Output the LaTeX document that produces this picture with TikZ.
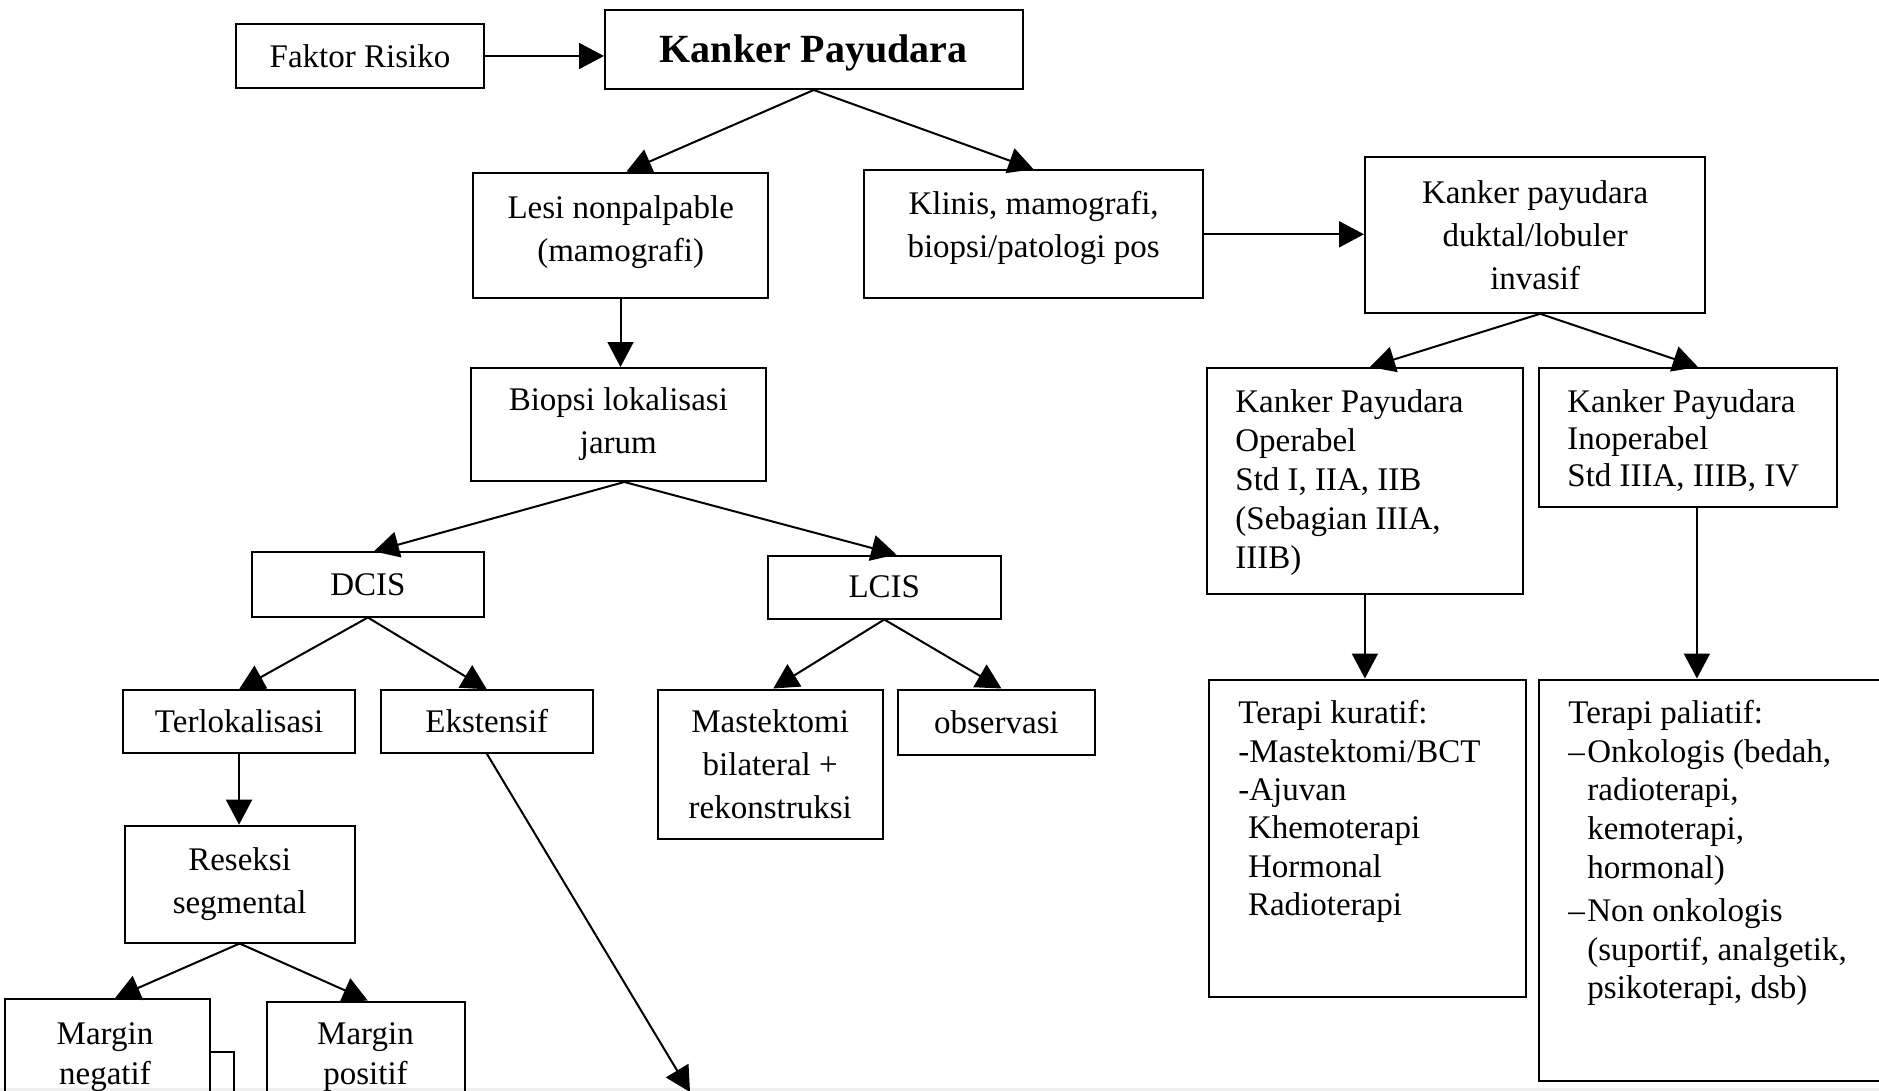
\documentclass[tikz,border=0pt]{standalone}
\usepackage{fontspec}
\setmainfont{Liberation Serif}
\usetikzlibrary{arrows.meta,fit}
\begin{document}
\begin{tikzpicture}[x=0.5pt,y=-0.5pt,
  box/.style={draw, line width=1pt, inner sep=0pt},
  txt/.style={inner sep=0pt, align=center, font=\fontsize{16.5}{21.5}\selectfont},
  ltxt/.style={inner sep=0pt, align=left, anchor=north west},
  arr/.style={line width=1pt, -{Triangle[length=12.5pt,width=13pt]}},
  ln/.style={line width=1pt}]
\useasboundingbox (0,0) rectangle (1879,1091);
\clip (0,0) rectangle (1879,1091);
\fill[gray!12] (0,1088) rectangle (1879,1091);

% ---- top row
\node[box, fit={(236,24) (484,88)}] (faktor) {};
\node[txt] (faktor-t) at (faktor) {Faktor Risiko};
\node[box, fit={(605,9.6) (1022.5,89)}] (kanker) {};
\node[inner sep=0pt, font=\fontsize{20}{24}\selectfont\bfseries] (kanker-t) at (813.7,53) {Kanker Payudara};

% ---- second row
\node[box, fit={(473,172.6) (768,298.4)}] (lesi) {};
\node[txt] (lesi-t) at (620.7,232) {Lesi nonpalpable\\(mamografi)};
\node[box, fit={(864,170.2) (1203,298.4)}] (klinis) {};
\node[txt] (klinis-t) at (1033.6,228) {Klinis, mamografi,\\biopsi/patologi pos};
\node[box, fit={(1365,157) (1705.3,312.8)}] (duktal) {};
\node[txt] (duktal-t) at (duktal) {Kanker payudara\\duktal/lobuler\\invasif};

% ---- left branch
\node[box, fit={(471,368) (765.7,481)}] (biopsi) {};
\node[txt] (biopsi-t) at (biopsi) {Biopsi lokalisasi\\jarum};
\node[box, fit={(251.7,552.4) (484,616.5)}] (dcis) {};
\node[txt] (dcis-t) at (dcis) {DCIS};
\node[box, fit={(768,555.5) (1000.6,618.5)}] (lcis) {};
\node[txt] (lcis-t) at (lcis) {LCIS};
\node[box, fit={(123.4,690.3) (354.7,752.6)}] (terl) {};
\node[txt] (terl-t) at (terl) {Terlokalisasi};
\node[box, fit={(381,690.3) (592.5,752.6)}] (ekst) {};
\node[txt] (ekst-t) at (ekst) {Ekstensif};
\node[box, fit={(657.9,689.5) (882.5,838.8)}] (mast) {};
\node[txt] (mast-t) at (mast) {Mastektomi\\bilateral +\\rekonstruksi};
\node[box, fit={(897.6,689.5) (1095.3,755)}] (obs) {};
\node[txt] (obs-t) at (obs) {observasi};
\node[box, fit={(124.6,825.7) (354.7,942.5)}] (reseksi) {};
\node[txt] (reseksi-t) at (reseksi) {Reseksi\\segmental};
\node[box, fit={(4.5,999) (209.7,1130)}] (mneg) {};
\node[txt, font=\fontsize{16.5}{20}\selectfont, anchor=north] (mneg-t) at (105,1020)
  {\rule{0pt}{12pt}Margin\\negatif};
\node[box, fit={(266.5,1001.5) (465,1130)}] (mpos) {};
\node[txt, font=\fontsize{16.5}{20}\selectfont, anchor=north] (mpos-t) at (365.5,1020)
  {\rule{0pt}{12pt}Margin\\positif};

% ---- right branch
\node[box, fit={(1206.7,368) (1523.1,594.4)}] (oper) {};
\node[ltxt, font=\fontsize{16.5}{19.5}\selectfont] (oper-t) at (1235,387.7)
  {\rule{0pt}{12pt}Kanker Payudara\\Operabel\\Std I, IIA, IIB\\(Sebagian IIIA,\\IIIB)};
\node[box, fit={(1538.7,368) (1837.1,507)}] (inop) {};
\node[ltxt, font=\fontsize{16.5}{18.5}\selectfont] (inop-t) at (1567,387.7)
  {\rule{0pt}{12pt}Kanker Payudara\\Inoperabel\\Std IIIA, IIIB, IV};
\node[box, fit={(1209.1,679.5) (1525.5,997)}] (kur) {};
\node[ltxt, font=\fontsize{16.5}{19.2}\selectfont] (kur-t) at (1238,699.3)
  {\rule{0pt}{12pt}Terapi kuratif:\\-Mastektomi/BCT\\-Ajuvan\\
   \hspace*{4.8pt}Khemoterapi\\\hspace*{4.8pt}Hormonal\\\hspace*{4.8pt}Radioterapi};
\node[box, fit={(1538.7,679.5) (1890,1081)}] (pal) {};
\node[ltxt, font=\fontsize{16.5}{19.3}\selectfont] (pal-t) at (1568,699.3)
  {\rule{0pt}{12pt}Terapi paliatif:\\
   \makebox[9.5pt][l]{–}Onkologis (bedah,\\
   \hspace*{9.5pt}radioterapi,\\
   \hspace*{9.5pt}kemoterapi,\\
   \hspace*{9.5pt}hormonal)\\[2.5pt]
   \makebox[9.5pt][l]{–}Non onkologis\\
   \hspace*{9.5pt}(suportif, analgetik,\\
   \hspace*{9.5pt}psikoterapi, dsb)};

% ---- connectors
\draw[arr] (faktor.east) -- (faktor.east -| kanker.west);
\draw[arr] (kanker.south) -- ([xshift=3pt]lesi.north);
\draw[arr] (kanker.south) -- (klinis.north);
\draw[arr] (lesi.south) -- (lesi.south |- biopsi.north);
\draw[arr] (klinis.east) -- (klinis.east -| duktal.west);
\draw[arr] ([xshift=2.5pt]duktal.south) -- ([xshift=2.5pt]oper.north);
\draw[arr] ([xshift=2.5pt]duktal.south) -- ([xshift=5pt]inop.north);
\draw[arr] ([xshift=3pt]biopsi.south) -- ([xshift=3pt]dcis.north);
\draw[arr] ([xshift=3pt]biopsi.south) -- ([xshift=6pt]lcis.north);
\draw[arr] (dcis.south) -- (terl.north);
\draw[arr] (dcis.south) -- (ekst.north);
\draw[arr] (lcis.south) -- ([xshift=1.5pt]mast.north);
\draw[arr] (lcis.south) -- ([xshift=2.5pt]obs.north);
\draw[arr] (terl.south) -- (terl.south |- reseksi.north);
\draw[arr] (reseksi.south) -- ([xshift=4pt]mneg.north);
\draw[arr] (reseksi.south) -- ([xshift=1pt]mpos.north);
\draw[arr] (oper.south) -- (oper.south |- kur.north);
\coordinate (ip) at ([xshift=4.5pt]inop.south);
\draw[arr] (ip) -- (ip |- pal.north);
\coordinate (ekst-end) at (690,1092);
\draw[arr] (ekst.south) -- (ekst-end);
\coordinate (elb) at (234,1052);
\coordinate (elb-end) at (234,1100);
\draw[ln] (elb -| mneg.east) -- (elb) -- (elb-end);
\end{tikzpicture}
\end{document}
